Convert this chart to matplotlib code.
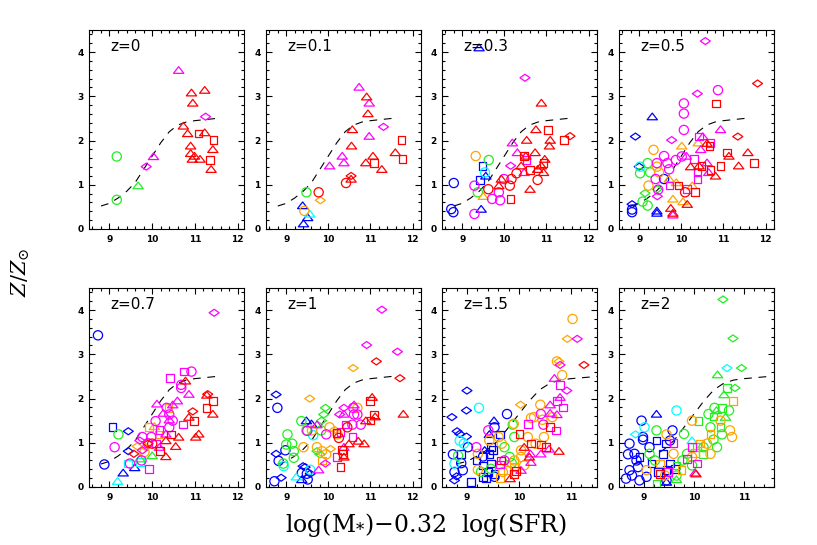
import numpy as np
import matplotlib
matplotlib.use("Agg")
import matplotlib.pyplot as plt
from matplotlib.path import Path
from matplotlib.ticker import MultipleLocator

plt.rcParams['mathtext.fontset'] = 'dejavuserif'

# ---------------- data ----------------
PANEL_LABELS = ["z=0", "z=0.1", "z=0.3", "z=0.5", "z=0.7", "z=1", "z=1.5", "z=2"]

MODEL_X = [8.8, 9.0, 9.2, 9.4, 9.6, 9.8, 10.0, 10.2, 10.4, 10.6, 10.8, 11.0, 11.2, 11.5]
MODEL_Y = [0.52, 0.58, 0.70, 0.85, 1.05, 1.35, 1.65, 1.95, 2.20, 2.35, 2.42, 2.45, 2.47, 2.50]

# (x, y, symbol+sample) ; symbol: c circle, t triangle, s square, d diamond
# sample colour code: r, m, o, g, c, b
Z0 = [(10.62,3.59,'tm'),(10.92,3.08,'tr'),(11.23,3.14,'tr'),(10.95,2.85,'tr'),(11.25,2.54,'dm'),
      (10.73,2.33,'tr'),(10.83,2.16,'tr'),(11.08,2.16,'sr'),(11.23,2.18,'tr'),(11.44,2.01,'sr'),
      (10.90,1.88,'tr'),(11.42,1.80,'tr'),(10.90,1.71,'tr'),(10.99,1.65,'tr'),(10.94,1.58,'tr'),
      (11.12,1.58,'tr'),(11.35,1.56,'sr'),(11.38,1.35,'tr'),(9.17,1.64,'cg'),(10.03,1.64,'tm'),
      (9.86,1.41,'dm'),(9.67,0.98,'tg'),(9.17,0.66,'cg')]

Z01 = [(10.73,3.21,'tm'),(10.91,2.99,'tr'),(10.97,2.85,'tm'),(10.94,2.61,'tr'),(10.57,2.25,'tr'),
       (11.31,2.31,'dm'),(10.97,2.10,'tm'),(11.74,2.01,'sr'),(10.55,1.88,'tr'),(10.33,1.65,'tm'),
       (11.06,1.65,'tr'),(11.59,1.73,'tr'),(10.37,1.50,'tm'),(10.89,1.50,'tr'),(11.08,1.49,'sr'),
       (11.76,1.58,'sr'),(10.03,1.43,'tm'),(11.27,1.35,'tr'),(10.54,1.20,'dr'),(10.54,1.13,'tr'),
       (10.42,1.04,'cr'),(9.48,0.83,'cg'),(9.77,0.83,'cr'),(9.81,0.65,'do'),(9.39,0.53,'tb'),
       (9.43,0.41,'co'),(9.56,0.34,'tc'),(9.51,0.26,'tb'),(9.41,0.12,'tb')]

Z03 = [(9.40,4.10,'tb'),(10.49,3.42,'dm'),(10.88,2.85,'tr'),(10.75,2.25,'tr'),(11.04,2.24,'sr'),
       (11.56,2.10,'dr'),(11.42,2.01,'sr'),(10.19,1.95,'tm'),(10.53,2.01,'tr'),(11.09,2.01,'tr'),
       (11.07,1.88,'tr'),(10.31,1.73,'tm'),(10.73,1.73,'tr'),(9.32,1.65,'co'),(9.63,1.56,'cg'),
       (10.47,1.65,'sr'),(10.51,1.65,'tr'),(10.53,1.56,'sm'),(10.96,1.58,'tr'),(9.48,1.43,'sb'),
       (10.15,1.43,'dm'),(10.40,1.43,'tr'),(10.88,1.43,'tr'),(10.93,1.49,'sr'),(10.61,1.34,'sr'),
       (10.79,1.35,'tr'),(10.93,1.28,'tr'),(9.54,1.28,'cc'),(10.47,1.28,'tm'),(10.29,1.26,'cr'),
       (9.56,1.20,'tb'),(9.42,1.11,'sb'),(9.93,1.13,'tr'),(9.99,1.13,'cm'),(10.17,1.13,'cr'),
       (10.79,1.11,'cr'),(8.80,1.04,'cb'),(9.29,0.98,'cm'),(9.87,0.98,'tr'),(10.13,0.98,'cr'),
       (9.62,0.90,'cr'),(10.61,0.90,'tr'),(9.37,0.83,'cg'),(9.87,0.83,'cm'),(9.50,0.74,'to'),
       (10.15,0.68,'sr'),(9.71,0.68,'cm'),(9.90,0.65,'cm'),(8.74,0.45,'cb'),(8.79,0.38,'cb'),
       (9.45,0.45,'tb'),(9.29,0.34,'cm')]

Z05 = [(10.57,4.25,'dm'),(11.81,3.29,'dr'),(10.87,3.14,'cm'),(10.38,3.06,'dm'),(10.83,2.84,'sr'),
       (10.06,2.84,'cm'),(10.06,2.61,'cm'),(9.31,2.54,'tb'),(10.93,2.25,'tm'),(10.06,2.24,'cm'),
       (8.91,2.09,'db'),(11.34,2.09,'dr'),(10.51,2.09,'tm'),(10.42,2.09,'sm'),(9.77,2.01,'dm'),
       (10.40,1.95,'to'),(10.69,1.94,'sm'),(10.67,1.88,'sr'),(10.01,1.88,'to'),(9.34,1.79,'co'),
       (10.46,1.80,'tm'),(10.61,1.94,'tr'),(11.58,1.73,'tr'),(11.09,1.73,'sr'),(11.13,1.65,'tr'),
       (9.59,1.65,'cm'),(10.01,1.64,'cm'),(9.20,1.49,'cg'),(9.42,1.49,'cm'),(9.42,1.41,'co'),
       (9.00,1.41,'db'),(9.02,1.41,'cc'),(9.87,1.56,'cm'),(10.12,1.65,'tm'),(10.30,1.58,'sm'),
       (10.22,1.41,'tr'),(10.48,1.43,'sr'),(10.42,1.43,'tr'),(10.61,1.50,'tm'),(10.93,1.43,'sr'),
       (11.36,1.43,'tr'),(11.72,1.49,'sr'),(9.67,1.49,'cm'),(9.02,1.26,'cg'),(9.26,1.28,'cg'),
       (9.47,1.28,'co'),(10.38,1.28,'sm'),(10.69,1.34,'sr'),(10.81,1.20,'tr'),(10.65,1.28,'tm'),
       (9.71,1.35,'cm'),(9.71,1.13,'to'),(10.38,1.13,'sm'),(9.39,1.13,'cm'),(9.59,1.13,'cb'),
       (9.22,0.98,'co'),(9.72,0.98,'sm'),(9.93,0.98,'sr'),(9.88,1.05,'to'),(10.26,0.98,'to'),
       (9.43,0.90,'dg'),(9.45,0.89,'cm'),(9.14,0.81,'dg'),(10.09,0.83,'cr'),(10.32,0.83,'sr'),
       (9.43,0.74,'dm'),(10.14,0.90,'sm'),(9.08,0.62,'cg'),(9.80,0.68,'to'),(10.04,0.62,'to'),
       (10.14,0.56,'tr'),(9.20,0.53,'cg'),(8.83,0.56,'db'),(9.75,0.47,'tr'),(8.83,0.44,'cb'),
       (8.83,0.38,'cb'),(9.42,0.41,'tb'),(9.42,0.36,'tb'),(9.80,0.36,'tr'),(9.80,0.32,'tm')]

Z07 = [(11.45,3.94,'dm'),(8.73,3.43,'cb'),(10.75,2.61,'sm'),(10.92,2.61,'cm'),(10.42,2.46,'sm'),
       (10.78,2.40,'tr'),(10.68,2.31,'cm'),(10.68,2.24,'cm'),(10.86,2.10,'tm'),(11.30,2.10,'dr'),
       (11.28,2.08,'tr'),(11.42,1.94,'sr'),(10.59,1.95,'tm'),(10.11,1.88,'tm'),(10.48,1.86,'tm'),
       (10.38,1.79,'so'),(10.34,1.79,'cm'),(11.27,1.79,'sr'),(10.95,1.71,'dr'),(11.42,1.65,'tr'),
       (10.26,1.67,'tm'),(10.40,1.64,'cm'),(10.86,1.58,'tr'),(10.98,1.49,'sr'),(10.48,1.50,'cm'),
       (10.08,1.49,'cm'),(10.72,1.41,'sm'),(10.40,1.52,'tm'),(9.07,1.35,'sb'),(9.92,1.35,'so'),
       (10.05,1.37,'to'),(10.40,1.35,'cm'),(10.17,1.29,'sm'),(9.44,1.26,'db'),(9.21,1.19,'cg'),
       (10.15,1.19,'so'),(10.44,1.19,'sr'),(11.09,1.20,'tr'),(11.02,1.13,'tr'),(10.32,1.20,'tm'),
       (10.62,1.13,'tr'),(9.77,1.13,'cm'),(9.98,1.13,'cm'),(10.32,1.05,'tr'),(9.71,1.05,'dm'),
       (9.90,0.99,'cm'),(9.90,0.98,'dr'),(10.00,0.98,'cr'),(10.55,0.92,'tr'),(10.09,0.98,'sm'),
       (9.12,0.90,'cm'),(10.17,0.90,'tm'),(9.65,0.92,'do'),(9.85,0.90,'do'),(9.77,0.83,'dm'),
       (10.18,0.81,'sr'),(9.44,0.81,'db'),(9.57,0.75,'dr'),(9.82,0.79,'co'),(10.32,0.69,'tr'),
       (10.00,0.71,'tg'),(9.71,0.64,'tg'),(9.75,0.60,'cm'),(9.71,0.56,'sc'),(9.48,0.53,'cm'),
       (9.44,0.53,'sc'),(8.88,0.51,'cb'),(9.59,0.44,'tb'),(9.92,0.41,'sm'),(9.32,0.32,'tb'),
       (9.19,0.13,'tc')]

Z1 = [(11.27,4.01,'dm'),(10.91,3.21,'dm'),(11.64,3.06,'dm'),(11.14,2.84,'dr'),(10.59,2.69,'do'),
      (11.70,2.46,'dr'),(8.76,2.09,'db'),(11.04,2.03,'tr'),(9.56,2.00,'do'),(10.99,1.94,'sr'),
      (8.79,1.79,'cb'),(9.93,1.79,'dg'),(10.61,1.86,'tm'),(10.59,1.79,'cm'),(10.37,1.79,'dm'),
      (10.69,1.79,'co'),(11.08,1.64,'sr'),(11.11,1.59,'tr'),(11.78,1.65,'tr'),(10.27,1.64,'dm'),
      (10.37,1.65,'tm'),(10.61,1.64,'cm'),(10.69,1.64,'cm'),(9.89,1.64,'dg'),(10.89,1.50,'tr'),
      (11.00,1.50,'sr'),(10.41,1.41,'sm'),(10.77,1.41,'cm'),(10.57,1.41,'cm'),(9.36,1.49,'cg'),
      (9.48,1.50,'tb'),(9.60,1.43,'tb'),(9.73,1.41,'tm'),(9.84,1.50,'dg'),(10.03,1.35,'co'),
      (9.48,1.28,'cg'),(9.50,1.27,'cm'),(9.83,1.28,'cg'),(9.61,1.28,'co'),(9.64,1.17,'cc'),
      (10.15,1.29,'do'),(10.19,1.22,'sr'),(10.22,1.19,'co'),(10.29,1.24,'sm'),(9.03,1.19,'cg'),
      (9.95,1.19,'cm'),(10.45,1.35,'cr'),(10.25,1.11,'cr'),(10.57,1.13,'sm'),(10.71,1.04,'tr'),
      (10.85,0.98,'tr'),(10.49,0.98,'tr'),(9.00,0.96,'cg'),(9.14,0.98,'cg'),(9.41,0.90,'co'),
      (9.73,0.90,'co'),(9.85,0.81,'co'),(10.05,0.86,'do'),(10.33,0.83,'sr'),(10.37,0.90,'tm'),
      (8.98,0.83,'cb'),(9.18,0.81,'cg'),(9.73,0.81,'dg'),(9.80,0.74,'dg'),(9.95,0.74,'co'),
      (10.21,0.68,'sm'),(10.35,0.75,'sr'),(10.37,0.68,'tr'),(8.76,0.75,'db'),(9.18,0.66,'cg'),
      (8.82,0.59,'cb'),(9.85,0.60,'so'),(9.93,0.53,'dm'),(8.93,0.53,'cg'),(8.94,0.47,'cc'),
      (9.40,0.47,'db'),(9.45,0.45,'db'),(9.57,0.39,'cc'),(9.37,0.32,'cb'),(9.49,0.30,'cb'),
      (9.77,0.39,'tm'),(10.29,0.45,'sr'),(9.24,0.23,'tc'),(9.37,0.17,'tb'),(9.51,0.17,'cb'),
      (8.88,0.21,'db'),(8.72,0.13,'cb'),(9.57,0.30,'db')]

Z15 = [(11.03,3.80,'co'),(10.93,3.35,'do'),(11.12,3.35,'dm'),(10.73,2.84,'co'),(10.77,2.84,'do'),
       (10.79,2.76,'dm'),(11.25,2.76,'dr'),(10.83,2.53,'co'),(10.68,2.46,'tm'),(10.79,2.31,'sm'),
       (10.92,2.18,'dm'),(9.00,2.18,'db'),(10.79,2.03,'tm'),(10.73,1.94,'sm'),(10.03,1.86,'do'),
       (10.41,1.86,'co'),(10.60,1.86,'tm'),(10.85,1.80,'sm'),(9.23,1.79,'cc'),(8.99,1.73,'db'),
       (8.71,1.58,'db'),(9.77,1.65,'cb'),(10.29,1.58,'co'),(10.42,1.65,'cm'),(10.60,1.67,'tm'),
       (10.73,1.64,'tm'),(10.64,1.58,'co'),(9.52,1.50,'tb'),(10.17,1.43,'sm'),(10.23,1.56,'co'),
       (10.45,1.52,'co'),(9.90,1.43,'co'),(9.88,1.41,'cg'),(10.47,1.41,'cm'),(10.60,1.35,'sr'),
       (10.71,1.28,'sm'),(9.53,1.35,'cb'),(9.41,1.28,'cm'),(8.81,1.26,'db'),(8.86,1.20,'db'),
       (9.43,1.19,'tb'),(9.64,1.19,'sb'),(10.01,1.20,'sr'),(9.91,1.13,'cg'),(10.17,1.13,'co'),
       (10.48,1.13,'co'),(8.99,1.14,'db'),(8.86,1.05,'cc'),(8.94,0.98,'cc'),(9.43,1.05,'co'),
       (9.61,1.13,'co'),(9.02,0.90,'cb'),(9.18,0.90,'cm'),(9.67,0.98,'co'),(10.23,0.98,'sr'),
       (10.42,0.96,'sr'),(10.52,0.90,'sr'),(10.32,0.98,'co'),(10.10,0.90,'tr'),(9.34,0.83,'tb'),
       (9.46,0.90,'sb'),(9.50,0.83,'sb'),(9.43,0.75,'sb'),(10.58,0.86,'tm'),(10.77,0.81,'tr'),
       (10.04,0.83,'co'),(9.72,0.90,'cg'),(8.73,0.74,'cb'),(8.83,0.71,'cg'),(8.89,0.75,'sb'),
       (9.21,0.75,'co'),(9.31,0.69,'cb'),(10.22,0.75,'tm'),(10.42,0.75,'tm'),(10.20,0.68,'tr'),
       (10.04,0.68,'co'),(9.82,0.68,'cg'),(9.91,0.60,'co'),(9.72,0.60,'cm'),(9.86,0.54,'cg'),
       (9.66,0.60,'sr'),(9.18,0.60,'sb'),(8.76,0.53,'cc'),(8.89,0.54,'cb'),(9.31,0.49,'sb'),
       (9.46,0.53,'sb'),(9.64,0.51,'sm'),(10.23,0.56,'tm'),(10.10,0.49,'co'),(9.91,0.45,'so'),
       (9.46,0.41,'cg'),(9.21,0.39,'co'),(8.76,0.34,'cb'),(8.92,0.38,'cb'),(9.40,0.34,'sb'),
       (9.53,0.30,'sb'),(9.78,0.39,'so'),(9.69,0.34,'co'),(9.94,0.36,'sr'),(10.04,0.38,'tm'),
       (8.80,0.24,'db'),(9.31,0.23,'sb'),(9.53,0.23,'cb'),(9.90,0.29,'sr'),(8.76,0.15,'db'),
       (9.08,0.11,'sb'),(9.83,0.19,'tr'),(9.64,0.21,'so'),(9.37,0.19,'sb'),(9.27,0.34,'cg')]

Z2 = [(10.58,4.24,'dg'),(10.78,3.36,'dg'),(10.66,2.69,'dc'),(10.95,2.69,'dg'),(10.47,2.54,'tg'),
      (9.25,1.65,'tb'),(9.65,1.73,'cc'),(10.66,2.24,'sg'),(10.82,2.24,'dg'),(10.60,2.09,'tg'),
      (10.78,1.94,'so'),(10.41,1.79,'cg'),(10.56,1.79,'sg'),(10.70,1.73,'cg'),(10.45,1.73,'tg'),
      (10.29,1.65,'cg'),(10.39,1.59,'sg'),(10.63,1.58,'tg'),(9.96,1.50,'co'),(10.09,1.49,'sg'),
      (8.95,1.50,'cb'),(9.01,1.35,'cc'),(9.25,1.28,'cg'),(10.33,1.35,'cg'),(10.53,1.35,'sg'),
      (10.53,1.50,'co'),(9.57,1.28,'cb'),(9.80,1.20,'cg'),(10.72,1.28,'co'),(10.56,1.19,'cg'),
      (8.83,1.19,'dc'),(8.98,1.13,'cb'),(9.25,1.05,'sb'),(8.98,1.07,'cb'),(10.76,1.13,'co'),
      (10.33,1.20,'so'),(9.96,1.05,'tc'),(10.39,1.07,'cg'),(8.71,0.98,'cb'),(9.52,1.05,'cb'),
      (9.44,0.98,'sb'),(9.45,1.19,'co'),(9.59,0.99,'sm'),(9.96,0.90,'sm'),(10.06,0.90,'sg'),
      (10.12,0.98,'so'),(10.19,0.90,'cg'),(10.26,0.98,'co'),(10.46,0.90,'cg'),(9.11,0.90,'cb'),
      (8.68,0.74,'cb'),(8.81,0.75,'cb'),(8.91,0.68,'sb'),(9.11,0.75,'cg'),(9.38,0.75,'sb'),
      (9.59,0.75,'co'),(9.86,0.75,'cg'),(10.02,0.77,'so'),(10.18,0.75,'sg'),(10.33,0.75,'co'),
      (9.86,0.64,'sm'),(9.77,0.60,'cg'),(9.96,0.68,'co'),(10.06,0.53,'sm'),(8.85,0.60,'cb'),
      (9.15,0.53,'sb'),(9.32,0.53,'so'),(9.52,0.53,'sb'),(9.65,0.49,'sg'),(9.22,0.60,'cg'),
      (8.88,0.45,'cb'),(8.71,0.38,'cb'),(8.76,0.26,'cb'),(8.64,0.19,'cb'),(9.28,0.34,'sb'),
      (9.45,0.38,'sb'),(9.62,0.41,'sb'),(9.05,0.38,'co'),(9.32,0.30,'sr'),(9.48,0.34,'sm'),
      (9.75,0.38,'so'),(9.96,0.49,'cg'),(10.02,0.32,'tm'),(10.04,0.30,'tr'),(9.65,0.17,'tg'),
      (9.25,0.08,'sg'),(8.91,0.15,'cb'),(9.45,0.15,'cb'),(9.45,0.11,'tb'),(9.65,0.26,'cg'),
      (9.42,0.26,'co'),(9.05,0.23,'cb')]

PANEL_DATA = [Z0, Z01, Z03, Z05, Z07, Z1, Z15, Z2]
XLIMS = [(8.52, 12.15), (8.52, 12.2), (8.52, 12.2), (8.52, 12.2),
         (8.52, 12.15), (8.52, 12.2), (8.52, 11.5), (8.5, 11.6)]

# ---------------- style ----------------
COLORS = {'r': '#ff0000', 'm': '#ff00ff', 'o': '#ffa500',
          'g': '#22ee22', 'c': '#00ffff', 'b': '#0000ff'}
diamond = Path([(-1.0, 0.0), (0.0, 0.7), (1.0, 0.0), (0.0, -0.7), (-1.0, 0.0)],
               [Path.MOVETO, Path.LINETO, Path.LINETO, Path.LINETO, Path.CLOSEPOLY])
triangle = Path([(-1.0, -0.6), (1.0, -0.6), (0.0, 0.7), (-1.0, -0.6)],
                [Path.MOVETO, Path.LINETO, Path.LINETO, Path.CLOSEPOLY])
MARKERS = {'c': ('o', 44), 't': (triangle, 55), 's': ('s', 30), 'd': (diamond, 52)}
COLOR_ORDER = ['b', 'c', 'g', 'o', 'm', 'r']

fig = plt.figure(figsize=(8.17, 5.45), dpi=100)

col_left = [89, 266, 442, 619]
row_top = [30, 288]
pw, ph = 155, 199
W, H = 817, 545

for i, (label, pts) in enumerate(zip(PANEL_LABELS, PANEL_DATA)):
    r, c = divmod(i, 4)
    ax = fig.add_axes([col_left[c] / W, 1 - (row_top[r] + ph) / H, pw / W, ph / H])
    ax.plot(MODEL_X, MODEL_Y, color='black', lw=0.8, dashes=(7, 6), zorder=1)
    for col in COLOR_ORDER:
        for sym in ['c', 't', 's', 'd']:
            sel = [(p[0], p[1]) for p in pts if p[2] == sym + col]
            if not sel:
                continue
            xs, ys = zip(*sel)
            mk, sz = MARKERS[sym]
            ax.scatter(xs, ys, marker=mk, s=sz, facecolors='none',
                       edgecolors=COLORS[col], linewidths=0.9, zorder=2)
    ax.set_xlim(*XLIMS[i])
    ax.set_ylim(0, 4.5)
    ax.xaxis.set_major_locator(MultipleLocator(1))
    ax.xaxis.set_minor_locator(MultipleLocator(0.2))
    ax.yaxis.set_major_locator(MultipleLocator(1))
    ax.yaxis.set_minor_locator(MultipleLocator(0.2))
    ax.tick_params(which='both', direction='in', top=True, right=True,
                   labelsize=6.5, width=0.8, pad=4)
    ax.tick_params(which='major', length=4)
    ax.tick_params(which='minor', length=2)
    for lab in ax.get_xticklabels() + ax.get_yticklabels():
        lab.set_fontweight('bold')
    for sp in ax.spines.values():
        sp.set_linewidth(0.8)
    ax.text(0.135, 0.915, label, transform=ax.transAxes, fontsize=11,
            ha='left', va='center', color='black', zorder=3)

fig.text(0.025, 0.50, r'$Z/Z_{\odot}$', rotation=90, fontsize=15,
         ha='center', va='center')
fig.text(0.522, 0.036, r'log(M$_{*}$)$-$0.32  log(SFR)', fontsize=17,
         family='DejaVu Serif', ha='center', va='center')

fig.savefig('out.png', dpi=100)
